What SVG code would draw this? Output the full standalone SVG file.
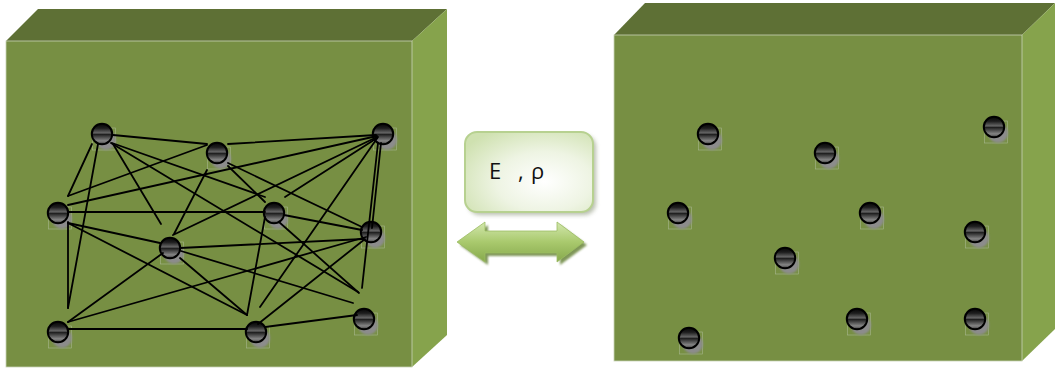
<svg xmlns="http://www.w3.org/2000/svg" xmlns:xlink="http://www.w3.org/1999/xlink" width="1056" height="368" viewBox="0 0 1056 368">
<style>
.top{fill:#5e7035}
.front{fill:#778f43;stroke:#c9d3b6;stroke-width:0.8}
.side{fill:#86a34c}
.conn line{stroke:#000;stroke-width:1.8;stroke-linecap:round}
.lbl{font-family:"Open Sans","Liberation Sans",sans-serif;font-size:22px;fill:#111}
</style>
<defs>
<linearGradient id="ball" x1="0" y1="0" x2="0" y2="1">
<stop offset="0" stop-color="#050505"/>
<stop offset="0.22" stop-color="#1e1e1e"/>
<stop offset="0.46" stop-color="#6a6a6a"/>
<stop offset="0.5" stop-color="#181818"/>
<stop offset="0.56" stop-color="#2c2c2c"/>
<stop offset="0.84" stop-color="#868686"/>
<stop offset="1" stop-color="#3a3a3a"/>
</linearGradient>
<radialGradient id="lblfill" cx="0.62" cy="0.62" r="0.75">
<stop offset="0" stop-color="#ffffff"/>
<stop offset="0.5" stop-color="#eef4e3"/>
<stop offset="1" stop-color="#cfe1b0"/>
</radialGradient>
<linearGradient id="arrfill" x1="0" y1="0" x2="0" y2="1">
<stop offset="0" stop-color="#d3e7ae"/>
<stop offset="0.5" stop-color="#a9c96d"/>
<stop offset="1" stop-color="#86a94c"/>
</linearGradient>
<filter id="blur" x="-50%" y="-50%" width="200%" height="200%"><feGaussianBlur stdDeviation="1.2"/></filter>
<filter id="blur2" x="-20%" y="-20%" width="140%" height="140%"><feGaussianBlur stdDeviation="2"/></filter>
<g id="particle">
<rect x="-9.5" y="-6" width="23" height="22" fill="none" stroke="#a9b78f" stroke-width="0.6"/>
<circle cx="4" cy="6" r="10" fill="#8c8c8c" filter="url(#blur)"/>
<circle r="10.2" fill="url(#ball)" stroke="#000" stroke-width="2"/>
</g>
</defs>

<g id="left-box">
<polygon class="top" points="6,41 38,9 447,9 412,41"/>
<polygon class="side" points="412,41 447,9 447,335 412,367"/>
<rect class="front" x="6" y="41" width="406" height="326"/>
</g>

<g id="right-box">
<polygon class="top" points="614,35 645,3 1055,3 1022,35"/>
<polygon class="side" points="1022,35 1055,3 1055,329 1022,361"/>
<rect class="front" x="614" y="35" width="408" height="326"/>
</g>

<g id="left-particles">
<g id="pA"><use xlink:href="#particle" x="102" y="134"/></g>
<g id="pB"><use xlink:href="#particle" x="217" y="153"/></g>
<g id="pC"><use xlink:href="#particle" x="383" y="134"/></g>
<g id="pD"><use xlink:href="#particle" x="58" y="213"/></g>
<g id="pE"><use xlink:href="#particle" x="274" y="213"/></g>
<g id="pF"><use xlink:href="#particle" x="371" y="232"/></g>
<g id="pG"><use xlink:href="#particle" x="170" y="248"/></g>
<g id="pH"><use xlink:href="#particle" x="58" y="332"/></g>
<g id="pI"><use xlink:href="#particle" x="256" y="332"/></g>
<g id="pJ"><use xlink:href="#particle" x="364" y="319"/></g>
</g>

<g id="connectors" class="conn">
<line x1="113" y1="135" x2="207" y2="144"/>
<line x1="228" y1="144" x2="376" y2="135"/>
<line x1="92" y1="144" x2="68" y2="196"/>
<line x1="68" y1="196" x2="207" y2="145"/>
<line x1="68" y1="205" x2="377" y2="136"/>
<line x1="98" y1="144" x2="68" y2="308"/>
<line x1="68" y1="222" x2="68" y2="308"/>
<line x1="68" y1="212" x2="265" y2="212"/>
<line x1="113" y1="144" x2="161" y2="224"/>
<line x1="112" y1="143" x2="265" y2="197"/>
<line x1="111" y1="143" x2="358" y2="292"/>
<line x1="207" y1="170" x2="174" y2="234"/>
<line x1="228" y1="166" x2="265" y2="202"/>
<line x1="228" y1="163" x2="362" y2="227"/>
<line x1="173" y1="235" x2="377" y2="137"/>
<line x1="285" y1="197" x2="377" y2="138"/>
<line x1="260" y1="307" x2="378" y2="137"/>
<line x1="381" y1="143" x2="372" y2="228"/>
<line x1="378" y1="143" x2="362" y2="288"/>
<line x1="284" y1="215" x2="362" y2="230"/>
<line x1="279" y1="222" x2="359" y2="293"/>
<line x1="265" y1="217" x2="247" y2="315"/>
<line x1="180" y1="248" x2="363" y2="239"/>
<line x1="68" y1="322" x2="366" y2="237"/>
<line x1="181" y1="251" x2="353" y2="303"/>
<line x1="365" y1="239" x2="258" y2="324"/>
<line x1="265" y1="327" x2="357" y2="315"/>
<line x1="68" y1="223" x2="160" y2="243"/>
<line x1="180" y1="258" x2="247" y2="315"/>
<line x1="68" y1="223" x2="247" y2="315"/>
<line x1="68" y1="329" x2="247" y2="329"/>
<line x1="68" y1="322" x2="163" y2="253"/>
</g>

<g id="right-particles">
<g id="r1"><use xlink:href="#particle" x="708" y="134"/></g>
<g id="r2"><use xlink:href="#particle" x="825" y="153"/></g>
<g id="r3"><use xlink:href="#particle" x="994" y="127"/></g>
<g id="r4"><use xlink:href="#particle" x="678" y="213"/></g>
<g id="r5"><use xlink:href="#particle" x="870" y="213"/></g>
<g id="r6"><use xlink:href="#particle" x="975" y="232"/></g>
<g id="r7"><use xlink:href="#particle" x="785" y="258"/></g>
<g id="r8"><use xlink:href="#particle" x="689" y="338"/></g>
<g id="r9"><use xlink:href="#particle" x="857" y="319"/></g>
<g id="r10"><use xlink:href="#particle" x="975" y="319"/></g>
</g>

<g id="label">
<rect x="468" y="135" width="128" height="80" rx="12" fill="#7f8a6c" opacity="0.55" filter="url(#blur2)"/>
<rect x="465" y="132" width="128" height="80" rx="12" fill="url(#lblfill)" stroke="#b7d190" stroke-width="2"/>
<text class="lbl" y="179"><tspan x="489">E</tspan><tspan x="518">,</tspan><tspan x="531">ρ</tspan></text>
</g>

<g id="arrow">
<polygon points="460,245 488,225 488,234 560,234 560,225 587,245 560,265 560,256 488,256 488,265" fill="#5f7d2e" opacity="0.8" filter="url(#blur)"/>
<polygon points="457,242 485,222 485,231 557,231 557,222 584,242 557,262 557,253 485,253 485,262" fill="url(#arrfill)" stroke="#9cbd62" stroke-width="0.8"/>
</g>
</svg>
